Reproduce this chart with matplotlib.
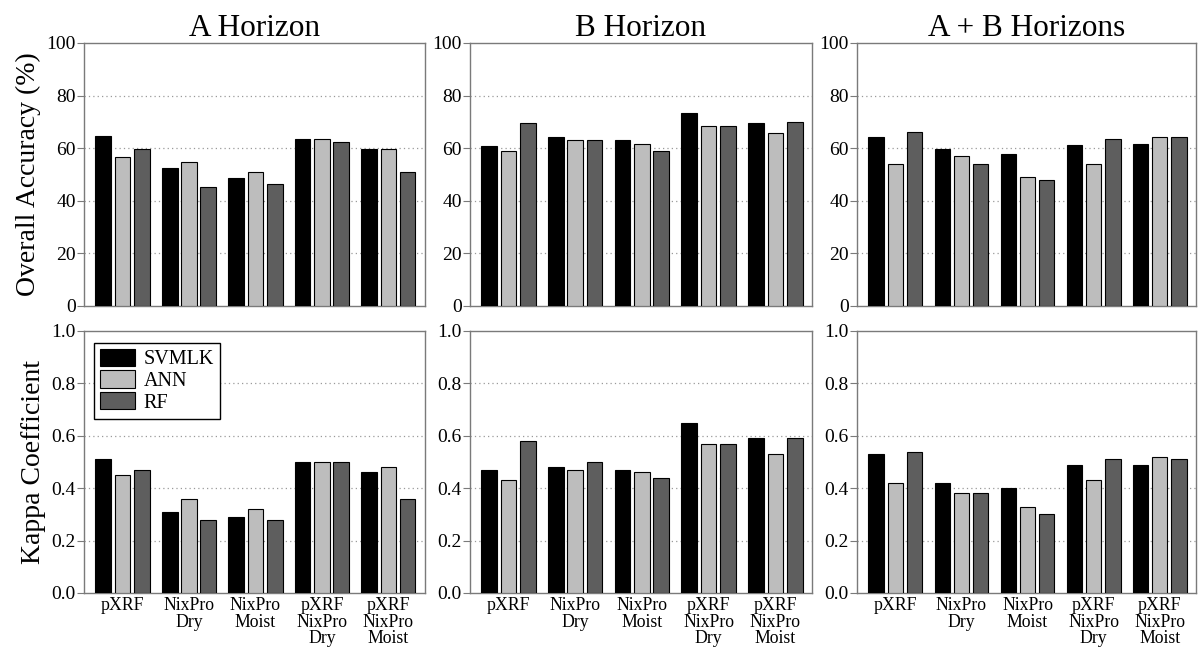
import numpy as np
import matplotlib.pyplot as plt
from matplotlib.patches import Patch

plt.rcParams['font.family'] = ['Liberation Serif', 'DejaVu Serif']

# sensor combinations on the x axis
groups = ['pXRF', 'NixPro\nDry', 'NixPro\nMoist', 'pXRF\nNixPro\nDry', 'pXRF\nNixPro\nMoist']
models = ['SVMLK', 'ANN', 'RF']
colors = ['#000000', '#bdbdbd', '#5e5e5e']
titles = ['A Horizon', 'B Horizon', 'A + B Horizons']

# overall accuracy (%) per horizon, one list per model
oa_a_svmlk = [64.7, 52.4, 48.8, 63.6, 59.8]
oa_a_ann = [56.8, 54.8, 51.1, 63.6, 59.8]
oa_a_rf = [59.7, 45.1, 46.5, 62.2, 51.1]

oa_b_svmlk = [60.9, 64.2, 63.2, 73.5, 69.4]
oa_b_ann = [59.1, 63.2, 61.5, 68.5, 65.9]
oa_b_rf = [69.6, 63.2, 59.1, 68.5, 70.1]

oa_ab_svmlk = [64.2, 59.5, 57.8, 61.1, 61.5]
oa_ab_ann = [54.1, 57.2, 49.2, 54.1, 64.2]
oa_ab_rf = [66.2, 53.9, 47.9, 63.6, 64.2]

# kappa coefficient per horizon
k_a_svmlk = [0.51, 0.31, 0.29, 0.50, 0.46]
k_a_ann = [0.45, 0.36, 0.32, 0.50, 0.48]
k_a_rf = [0.47, 0.28, 0.28, 0.50, 0.36]

k_b_svmlk = [0.47, 0.48, 0.47, 0.65, 0.59]
k_b_ann = [0.43, 0.47, 0.46, 0.57, 0.53]
k_b_rf = [0.58, 0.50, 0.44, 0.57, 0.59]

k_ab_svmlk = [0.53, 0.42, 0.40, 0.49, 0.49]
k_ab_ann = [0.42, 0.38, 0.33, 0.43, 0.52]
k_ab_rf = [0.54, 0.38, 0.30, 0.51, 0.51]

oa_data = [[oa_a_svmlk, oa_a_ann, oa_a_rf],
           [oa_b_svmlk, oa_b_ann, oa_b_rf],
           [oa_ab_svmlk, oa_ab_ann, oa_ab_rf]]
k_data = [[k_a_svmlk, k_a_ann, k_a_rf],
          [k_b_svmlk, k_b_ann, k_b_rf],
          [k_ab_svmlk, k_ab_ann, k_ab_rf]]

fig = plt.figure(figsize=(11.98, 6.48), dpi=100)

lefts = [0.0701, 0.3923, 0.7154]
widths = [0.2846, 0.2855, 0.2830]
top_row = (0.5278, 0.4059)
bot_row = (0.0849, 0.4043)

x = np.arange(len(groups))
bw = 0.235
off = 0.29
spine_col = '#7a7a7a'


def draw_panel(ax, series, ymax, ticks, ticklabels, gridvals):
    for i, vals in enumerate(series):
        ax.bar(x + (i - 1) * off, vals, width=bw, color=colors[i],
               edgecolor='black', linewidth=0.8, zorder=3)
    for g in gridvals:
        ax.axhline(g, color='#9a9a9a', linestyle=(0, (1, 2.5)), linewidth=0.9, zorder=1)
    ax.set_ylim(0, ymax)
    ax.set_xlim(-0.58, 4.55)
    ax.set_yticks(ticks)
    ax.set_yticklabels(ticklabels)
    for s in ax.spines.values():
        s.set_color(spine_col)
        s.set_linewidth(1.0)
    ax.tick_params(axis='y', labelsize=14, length=5, color=spine_col, pad=1)
    ax.tick_params(axis='x', length=0, labelsize=12.8, pad=3)


for c in range(3):
    ax = fig.add_axes([lefts[c], top_row[0], widths[c], top_row[1]])
    draw_panel(ax, oa_data[c], 100, [0, 20, 40, 60, 80, 100],
               ['0', '20', '40', '60', '80', '100'], [20, 40, 60, 80])
    ax.set_xticks(x)
    ax.set_xticklabels([])
    ax.set_title(titles[c], fontsize=22.5, pad=3)
    if c == 0:
        ax.set_ylabel('Overall Accuracy (%)', fontsize=20, labelpad=4)

    ax = fig.add_axes([lefts[c], bot_row[0], widths[c], bot_row[1]])
    draw_panel(ax, k_data[c], 1.0, [0, 0.2, 0.4, 0.6, 0.8, 1.0],
               ['0.0', '0.2', '0.4', '0.6', '0.8', '1.0'], [0.2, 0.4, 0.6, 0.8])
    ax.set_xticks(x)
    ax.set_xticklabels(groups, linespacing=0.95, va='top')
    if c == 0:
        ax.set_ylabel('Kappa Coefficient', fontsize=20, labelpad=4)
        handles = [Patch(facecolor=colors[i], edgecolor='black', linewidth=0.8, label=models[i])
                   for i in range(3)]
        leg = ax.legend(handles=handles, loc='upper left', bbox_to_anchor=(0.03, 0.955),
                        fontsize=14.5, fancybox=False, framealpha=1, edgecolor='black',
                        handlelength=1.75, handleheight=0.95, handletextpad=0.4,
                        labelspacing=0.05, borderpad=0.3, borderaxespad=0)
        leg.get_frame().set_linewidth(1.0)
        leg.set_zorder(5)

fig.savefig('out.png', dpi=100)
